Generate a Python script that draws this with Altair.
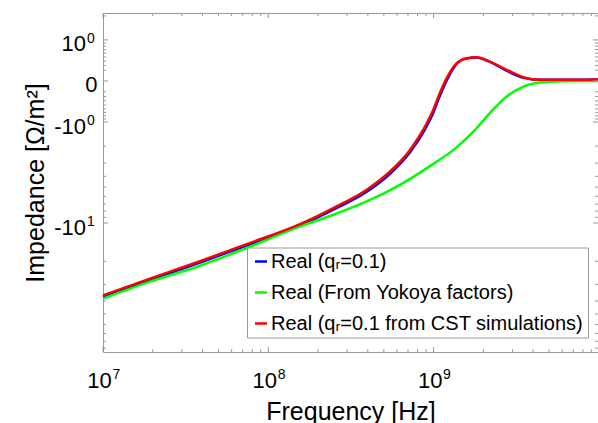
import altair as alt
import pandas as pd

# ---------------- data ----------------
freq_blue_red = [1.0e7, 1.924e7, 3.863e7, 7.40e7, 1.555e8, 2.473e8, 3.94e8, 5.45e8, 7.20e8,
                 8.87e8, 9.96e8, 1.07e9, 1.20e9, 1.38e9, 1.59e9, 1.82e9, 2.19e9, 2.77e9,
                 3.49e9, 4.40e9, 6.07e9, 9.87e9]
z_blue = [-37.1, -27.76, -20.4, -15.07, -10.51, -7.79, -5.49, -3.79, -2.33, -1.26, -0.71,
          -0.364, 0.010, 0.334, 0.465, 0.489, 0.380, 0.186, 0.054, 0.019, 0.019, 0.027]
z_red = [-36.3, -27.1, -19.95, -14.7, -10.2, -7.54, -5.27, -3.61, -2.20, -1.158, -0.628,
         -0.30, 0.048, 0.35, 0.469, 0.494, 0.387, 0.206, 0.066, 0.019, 0.019, 0.027]
freq_green = [1.0e7, 1.924e7, 3.863e7, 7.40e7, 1.555e8, 2.473e8, 3.94e8, 6.26e8, 9.96e8,
              1.32e9, 1.74e9, 2.19e9, 2.77e9, 3.49e9, 4.40e9, 6.07e9, 9.87e9]
z_green = [-38.4, -28.6, -21.6, -15.77, -10.65, -8.56, -6.64, -4.77, -3.05, -2.20, -1.35,
           -0.72, -0.30, -0.099, -0.027, -0.003, 0.0]

series_names = ["Real (qᵣ=0.1)", "Real (From Yokoya factors)",
                "Real (qᵣ=0.1 from CST simulations)"]
series_colors = ["#0000ff", "#00ff00", "#ff0000"]

x_major = [1e7, 1e8, 1e9]
x_minor = [k * 10 ** e for e in (7, 8, 9) for k in range(2, 10)]
y_major = [1, 0, -1, -10]
y_minor = ([2] + [k / 10 for k in range(2, 10)] + [-k / 10 for k in range(2, 10)]
           + [-k for k in range(2, 10)] + [-10 * k for k in range(2, 10)])
x_label_base = ["10", "10", "10"]
x_label_exp = ["7", "8", "9"]
y_label_base = ["10", "0", "-10", "-10"]
y_label_exp = ["0", "", "0", "1"]

# ---------------- build tables ----------------
rows = []
for f, z in zip(freq_blue_red, z_blue):
    rows.append({"f": f, "z": z, "series": series_names[0]})
for f, z in zip(freq_green, z_green):
    rows.append({"f": f, "z": z, "series": series_names[1]})
for f, z in zip(freq_blue_red, z_red):
    rows.append({"f": f, "z": z, "series": series_names[2]})
lines_df = pd.DataFrame(rows)

W, H = 495, 339
GRAY = "#999999"
FONT = "Liberation Sans"

xscale = alt.Scale(type="log", domain=[1e7, 9.876e9], nice=False)
yscale = alt.Scale(type="symlog", constant=1, domain=[-96, 2.15], nice=False, zero=False)

xaxis = alt.Axis(labels=False, ticks=False, domain=False, grid=False,
                 title="Frequency [Hz]", titleFont=FONT, titleFontSize=25,
                 titleFontWeight="normal", titleColor="black",
                 titleX=W / 2, titleY=67, titleBaseline="alphabetic", titleAlign="center")
yaxis = alt.Axis(labels=False, ticks=False, domain=False, grid=False,
                 title="Impedance [Ω/m²]", titleFont=FONT, titleFontSize=25,
                 titleFontWeight="normal", titleColor="black", titleAngle=270,
                 titleX=-60, titleY=H / 2, titleBaseline="alphabetic", titleAlign="center")

X = lambda: alt.X("f:Q", scale=xscale, axis=xaxis)
Y = lambda: alt.Y("z:Q", scale=yscale, axis=yaxis)

lines = alt.Chart(lines_df).mark_line(strokeWidth=2.5, interpolate="monotone").encode(
    x=X(), y=Y(),
    color=alt.Color("series:N",
                    scale=alt.Scale(domain=series_names, range=series_colors),
                    sort=series_names,
                    legend=alt.Legend(orient="none", legendX=144, legendY=234.5,
                                      direction="vertical", title=None,
                                      padding=4, strokeColor=GRAY, fillColor="white",
                                      symbolType="stroke", symbolSize=144,
                                      symbolStrokeWidth=2.5,
                                      labelOffset=0, labelFont=FONT, labelFontSize=20,
                                      labelColor="black", labelLimit=500, rowPadding=11)),
    order=alt.Order("series_order:Q"),
).transform_calculate(
    series_order="indexof(%s, datum.series)" % str(series_names)
)


def xticks(vals, length, top):
    d = pd.DataFrame({"f": vals})
    y0 = 0 if top else H
    y1 = length if top else H - length
    return alt.Chart(d).mark_rule(color=GRAY, strokeWidth=1).encode(
        x=X(), y=alt.value(y0), y2=alt.value(y1))


def yticks(vals, length, right):
    d = pd.DataFrame({"z": vals})
    x0 = W if right else 0
    x1 = W - length if right else length
    return alt.Chart(d).mark_rule(color=GRAY, strokeWidth=1).encode(
        y=Y(), x=alt.value(x0), x2=alt.value(x1))


ticks = [xticks(x_major, 5, False), xticks(x_minor, 3, False),
         xticks(x_major, 5, True), xticks(x_minor, 3, True),
         yticks(y_major, 5, False), yticks(y_minor, 3, False),
         yticks(y_major, 5, True), yticks(y_minor, 3, True)]

xl_df = pd.DataFrame({"f": x_major, "base": x_label_base, "exp": x_label_exp})
xl_base = alt.Chart(xl_df).mark_text(align="right", baseline="alphabetic", font=FONT,
                                     fontSize=22, dx=8.8, color="black").encode(
    x=X(), y=alt.value(387.7 - 13), text="base:N")
xl_exp = alt.Chart(xl_df).mark_text(align="left", baseline="alphabetic", font=FONT,
                                    fontSize=14, dx=9.5, color="black").encode(
    x=X(), y=alt.value(379 - 13), text="exp:N")

yl_df = pd.DataFrame({"z": y_major, "base": y_label_base, "exp": y_label_exp})
yl_base = alt.Chart(yl_df).transform_filter("datum.exp != ''").mark_text(
    align="right", baseline="alphabetic", font=FONT, fontSize=22, dy=11.5,
    color="black").encode(y=Y(), x=alt.value(86 - 103), text="base:N")
yl_zero = alt.Chart(yl_df).transform_filter("datum.exp == ''").mark_text(
    align="right", baseline="alphabetic", font=FONT, fontSize=22, dy=11.5,
    color="black").encode(y=Y(), x=alt.value(97.5 - 103), text="base:N")
yl_exp = alt.Chart(yl_df).transform_filter("datum.exp != ''").mark_text(
    align="left", baseline="alphabetic", font=FONT, fontSize=14, dy=2.8,
    color="black").encode(y=Y(), x=alt.value(87 - 103), text="exp:N")

chart = alt.layer(lines, *ticks, xl_base, xl_exp, yl_base, yl_zero, yl_exp).properties(
    width=W, height=H,
    autosize=alt.AutoSizeParams(type="none"),
    padding={"left": 103, "top": 13, "right": 0, "bottom": 71},
    background="white",
).configure_view(stroke=GRAY, strokeWidth=1)

chart.save("out.html", embed_options={"renderer": "svg", "actions": False})
